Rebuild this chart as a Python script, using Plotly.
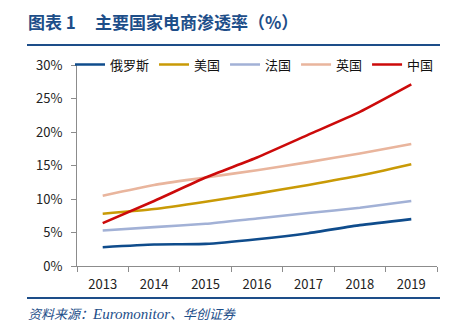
import plotly.graph_objects as go

years = ["2013", "2014", "2015", "2016", "2017", "2018", "2019"]
russia = [2.8, 3.2, 3.3, 4.0, 4.9, 6.1, 7.0]
usa = [7.8, 8.5, 9.6, 10.8, 12.1, 13.5, 15.2]
france = [5.3, 5.8, 6.3, 7.1, 7.9, 8.7, 9.7]
uk = [10.5, 12.1, 13.2, 14.3, 15.5, 16.8, 18.2]
china = [6.4, 9.7, 13.2, 16.2, 19.6, 23.0, 27.1]

series = [
    ("俄罗斯", russia, "#0F4C8C"),
    ("美国", usa, "#C99A06"),
    ("法国", france, "#A2B1D6"),
    ("英国", uk, "#E9B59D"),
    ("中国", china, "#CC0A0A"),
]

W, H = 457, 333
L, R, T, B = 77, 437, 65, 266
pw, ph = R - L, B - T

def px(x):
    return (x - L) / pw

def py(y):
    return (B - y) / ph

fig = go.Figure()
for name, vals, color in series:
    fig.add_trace(go.Scatter(
        x=years, y=[v / 100 for v in vals], name=name, mode="lines",
        line=dict(color=color, width=2.6, shape="spline", smoothing=0.5),
    ))

cjk = "Noto Sans CJK SC"
navy = "#1D4E89"

fig.update_layout(
    width=W, height=H,
    margin=dict(l=L, r=W - R, t=T, b=H - B, pad=0),
    paper_bgcolor="white", plot_bgcolor="white",
    font=dict(family=cjk, size=13, color="#222222"),
    showlegend=True,
    legend=dict(orientation="h", x=px(70), y=1.002, xanchor="left", yanchor="middle",
                font=dict(family=cjk, size=13, color="#111111"),
                bgcolor="rgba(0,0,0,0)", itemwidth=30, tracegroupgap=0,
                traceorder="normal"),
    xaxis=dict(type="category", range=[-0.5, 6.5], showline=True, linecolor="#8C8C8C", linewidth=1,
               ticks="outside", ticklen=5, tickcolor="#8C8C8C", tickson="boundaries",
               showgrid=False, zeroline=False, ticklabelstandoff=6,
               tickfont=dict(family=cjk, size=13, color="#222222")),
    yaxis=dict(range=[0, 0.30], tickvals=[0, 0.05, 0.10, 0.15, 0.20, 0.25, 0.30],
               tickformat=".0%", showline=True, linecolor="#8C8C8C", linewidth=1,
               ticks="outside", ticklen=5, tickcolor="#8C8C8C",
               showgrid=False, zeroline=False, ticklabelstandoff=6,
               tickfont=dict(family=cjk, size=13, color="#222222")),
    shapes=[
        dict(type="line", xref="paper", yref="paper", x0=px(27), x1=px(440),
             y0=py(45), y1=py(45), line=dict(color=navy, width=2)),
        dict(type="line", xref="paper", yref="paper", x0=px(27), x1=px(440),
             y0=py(298), y1=py(298), line=dict(color=navy, width=2)),
    ],
    annotations=[
        dict(xref="paper", yref="paper", x=px(26), y=py(22), xanchor="left", yanchor="middle",
             text="<b>图表 1</b>", showarrow=False,
             font=dict(family=cjk, size=17, color=navy)),
        dict(xref="paper", yref="paper", x=px(93), y=py(22), xanchor="left", yanchor="middle",
             text="<b>主要国家电商渗透率（%）</b>", showarrow=False,
             font=dict(family=cjk, size=17, color=navy)),
        dict(xref="paper", yref="paper", x=px(26), y=py(313), xanchor="left", yanchor="middle",
             text='<i>资料来源：<span style="font-family:Liberation Serif;font-size:15px">Euromonitor</span>、华创证券</i>',
             showarrow=False,
             font=dict(family=cjk, size=13, color=navy)),
    ],
)

fig.write_html("out.html")
